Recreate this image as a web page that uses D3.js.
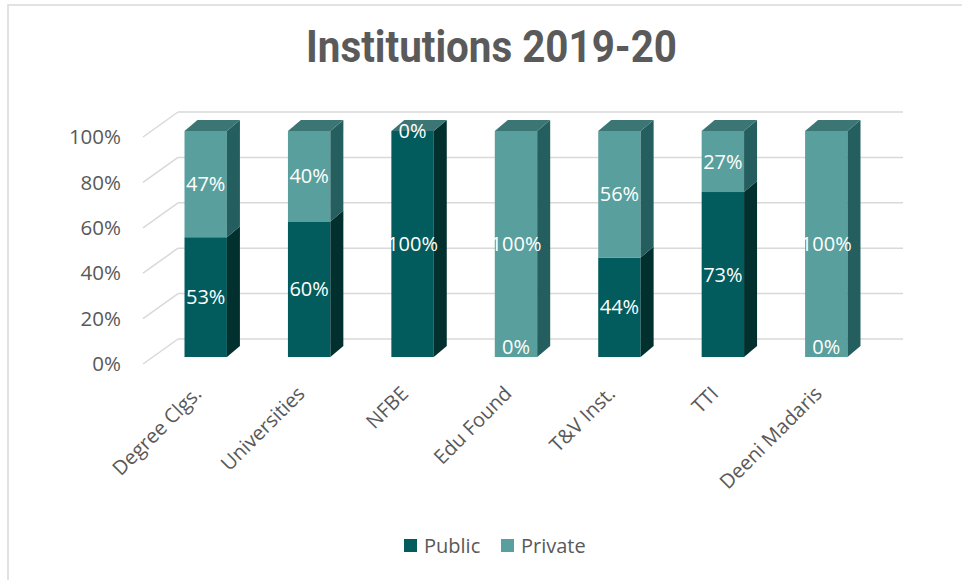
<!DOCTYPE html>
<html>
<head>
<meta charset="utf-8">
<script src="https://cdn.jsdelivr.net/npm/d3@7"></script>
<style>
html,body{margin:0;padding:0;background:#fff;}
svg{display:block;}
</style>
</head>
<body>
<svg id="chart" width="962" height="580"></svg>
<script>
const categories = ["Degree Clgs.","Universities","NFBE","Edu Found","T&V Inst.","TTI","Deeni Madaris"];
const publicVals = [53,60,100,0,44,73,0];
const privateVals = [47,40,0,100,56,27,100];
const tickVals = [0,20,40,60,80,100];
const seriesNames = ["Public","Private"];

const colors = {
  Public: {front:"#025b5c", side:"#01302f", top:"#1e5757"},
  Private:{front:"#599f9d", side:"#245e5e", top:"#3b7574"}
};

const svg = d3.select("#chart");
const FONT = "'Open Sans', sans-serif";

// chart border
svg.append("rect").attr("x",8).attr("y",5).attr("width",980).attr("height",600)
  .attr("fill","#fff").attr("stroke","#d9d9d9").attr("stroke-width",1.5);

// title
svg.append("text").attr("x",491.5).attr("y",62).attr("text-anchor","middle")
  .attr("font-family","Roboto, 'Liberation Sans', sans-serif").attr("font-weight","bold")
  .attr("font-size",45).attr("fill","#5a5a5a")
  .attr("textLength",371).attr("lengthAdjust","spacingAndGlyphs")
  .text("Institutions 2019-20");

// 3D geometry
const wall = {x0:178, x1:903};
const floorOff = {dx:-35, dy:25};
const barDepth = {dx:13, dy:-11};
const yBack = d3.scaleLinear().domain([0,100]).range([339,112]);
const yFront = d3.scaleLinear().domain([0,100]).range([357,131]);
const x = d3.scaleBand().domain(categories).range([154,878]).paddingInner(0.59).paddingOuter(0.295);

// gridlines
const g = svg.append("g");
tickVals.forEach(v=>{
  const yb = yBack(v);
  g.append("line").attr("x1",wall.x0).attr("x2",wall.x1).attr("y1",yb).attr("y2",yb)
    .attr("stroke","#d9d9d9").attr("stroke-width",1.5);
  g.append("line").attr("x1",wall.x0+floorOff.dx).attr("y1",yb+floorOff.dy)
    .attr("x2",wall.x0).attr("y2",yb).attr("stroke","#d9d9d9").attr("stroke-width",1.5);
});

// y axis labels
const yAxisScale = d3.scaleLinear().domain([0,100]).range([yBack(0)+floorOff.dy, yBack(100)+floorOff.dy]);
tickVals.forEach(v=>{
  svg.append("text").attr("x",121).attr("y",yAxisScale(v)).attr("dy","0.35em")
    .attr("text-anchor","end").attr("font-family",FONT)
    .attr("font-size",20.5).attr("fill","#595959").text(v+"%");
});

// bars
const stacks = categories.map((c,i)=>({cat:c, segs:[
  {name:"Public", v0:0, v1:publicVals[i], val:publicVals[i]},
  {name:"Private", v0:publicVals[i], v1:publicVals[i]+privateVals[i], val:privateVals[i]}
]}));

const bars = svg.append("g");
stacks.forEach(s=>{
  const xl = x(s.cat), xr = xl + x.bandwidth();
  s.segs.forEach(seg=>{
    const c = colors[seg.name];
    const y0 = yFront(seg.v0), y1 = yFront(seg.v1);
    if (seg.v1>seg.v0){
      bars.append("rect").attr("x",xl).attr("y",y1).attr("width",xr-xl).attr("height",y0-y1).attr("fill",c.front);
      bars.append("polygon").attr("points",[[xr,y0],[xr+barDepth.dx,y0+barDepth.dy],[xr+barDepth.dx,y1+barDepth.dy],[xr,y1]].map(p=>p.join(",")).join(" "))
        .attr("fill",c.side);
    }
  });
  const topSeg = s.segs[s.segs.length-1];
  const yt = yFront(topSeg.v1);
  bars.append("polygon").attr("points",[[xl,yt],[xr,yt],[xr+barDepth.dx,yt+barDepth.dy],[xl+barDepth.dx,yt+barDepth.dy]].map(p=>p.join(",")).join(" "))
    .attr("fill",colors[topSeg.name].top);
});

// data labels
stacks.forEach(s=>{
  const cx = x(s.cat) + x.bandwidth()/2;
  s.segs.forEach(seg=>{
    let ym = yFront((seg.v0+seg.v1)/2);
    ym = Math.min(ym, yFront(0)-10);
    svg.append("text").attr("x",cx).attr("y",ym).attr("dy","0.35em").attr("text-anchor","middle")
      .attr("font-family",FONT).attr("font-size",20).attr("fill","#ffffff")
      .text(seg.val+"%");
  });
});

// category labels
categories.forEach(c=>{
  const cx = x(c) + x.bandwidth()/2;
  svg.append("text").attr("transform",`translate(${cx-8},${390}) rotate(-45)`)
    .attr("text-anchor","end").attr("dy","0.35em")
    .attr("font-family",FONT).attr("font-size",20).attr("fill","#595959")
    .text(c);
});

// legend
const legend = svg.append("g");
const legendItems = [{name:"Public", x:404},{name:"Private", x:501}];
legendItems.forEach(li=>{
  legend.append("rect").attr("x",li.x).attr("y",539).attr("width",13).attr("height",13).attr("fill",colors[li.name].front);
  legend.append("text").attr("x",li.x+20).attr("y",545.5).attr("dy","0.35em")
    .attr("font-family",FONT).attr("font-size",20).attr("fill","#595959").text(li.name);
});
</script>
</body>
</html>
